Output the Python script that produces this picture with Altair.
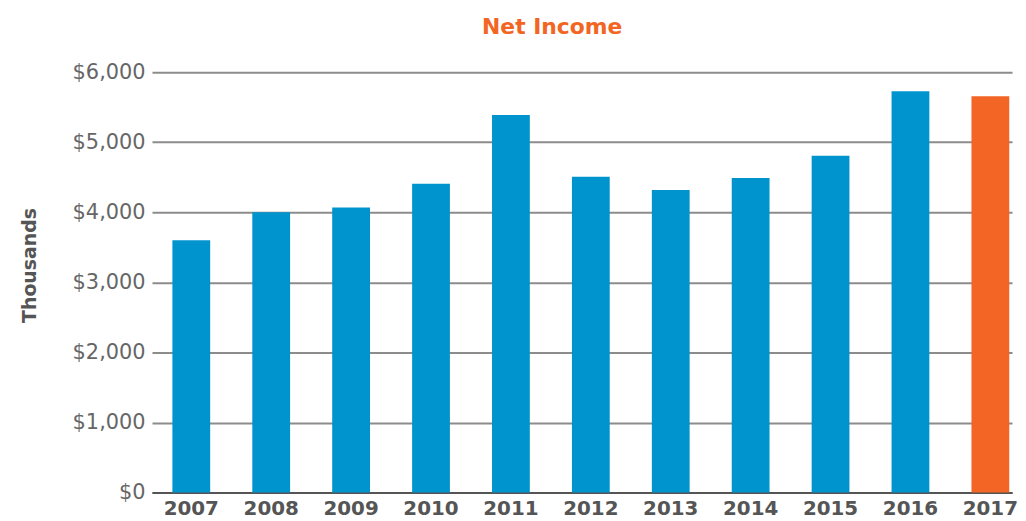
import altair as alt
import pandas as pd

years = ["2007", "2008", "2009", "2010", "2011", "2012", "2013", "2014", "2015", "2016", "2017"]
net_income = [3600, 4000, 4070, 4410, 5390, 4510, 4320, 4490, 4810, 5730, 5660]
highlight = ["past"] * 10 + ["current"]

df = pd.DataFrame({"year": years, "value": net_income, "kind": highlight})

FONT = "DejaVu Sans"

chart = alt.Chart(df).mark_bar().encode(
    x=alt.X("year:N", sort=years,
            scale=alt.Scale(paddingInner=0.527, paddingOuter=0.145, align=0.88, round=False),
            axis=alt.Axis(title=None, labelAngle=0, ticks=False, labelPadding=6,
                          labelFont=FONT, labelFontWeight="bold", labelFontSize=20,
                          labelColor="#555555", domainColor="#555555", domainWidth=2,
                          grid=False)),
    y=alt.Y("value:Q", scale=alt.Scale(domain=[0, 6000]),
            axis=alt.Axis(title="Thousands", values=[0, 1000, 2000, 3000, 4000, 5000, 6000],
                          format="$,.0f", ticks=False, domain=False, labelPadding=7,
                          labelFont=FONT, labelFontSize=21, labelColor="#666666",
                          titleFont=FONT, titleFontSize=19, titleFontWeight="bold",
                          titleColor="#555555", titlePadding=33, titleY=194,
                          gridColor="#8c8c8c", gridWidth=2)),
    color=alt.Color("kind:N", scale=alt.Scale(domain=["past", "current"],
                                               range=["#0094CE", "#F26524"]), legend=None),
).properties(
    width=866, height=423,
    title=alt.TitleParams("Net Income", font=FONT, fontSize=22, fontWeight="bold",
                          color="#F26522", anchor="middle", dx=-30, offset=23),
    padding={"left": 12, "top": 6, "right": 0, "bottom": 0},
).configure_view(stroke=None)

chart.save("out.html", embed_options={"renderer": "svg", "actions": False})
